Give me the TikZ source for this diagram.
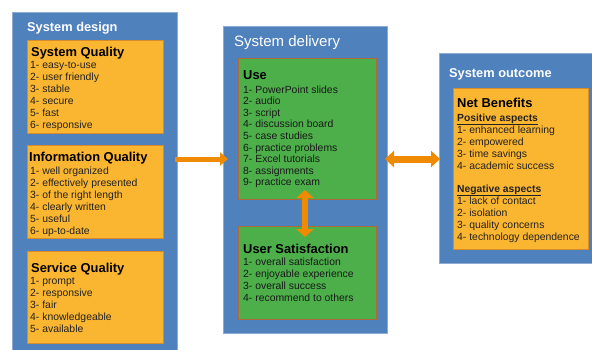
\documentclass[tikz,border=0pt]{standalone}
\usepackage{fontspec}
\setmainfont{Liberation Sans}
\usetikzlibrary{arrows.meta}

\definecolor{panelblue}{HTML}{4F81BD}
\definecolor{panelline}{HTML}{8FAAD3}
\definecolor{boxorange}{HTML}{FBB631}
\definecolor{orangeline}{HTML}{D98A2B}
\definecolor{boxgreen}{HTML}{4CAF4A}
\definecolor{greenline}{HTML}{B0683A}
\definecolor{arroworange}{HTML}{F08A00}
\definecolor{itemgray}{HTML}{222222}

\tikzset{
  panel/.style={draw=panelline, line width=0.6pt, fill=panelblue,
    anchor=north west, inner sep=0pt, outer sep=0pt},
  obox/.style={draw=orangeline, line width=0.6pt, fill=boxorange,
    anchor=north west, inner sep=0pt, outer sep=0pt},
  gbox/.style={draw=greenline, line width=0.6pt, fill=boxgreen,
    anchor=north west, inner sep=0pt, outer sep=0pt},
  paneltitle/.style={anchor=base west, inner sep=0pt, text=white,
    font=\bfseries\fontsize{12.8}{15}\selectfont},
  boxhead/.style={anchor=base west, inner sep=0pt, text=black,
    font=\bfseries\fontsize{12.9}{15}\selectfont},
  subhead/.style={anchor=base west, inner sep=0pt, text=itemgray,
    font=\bfseries\fontsize{10.3}{12}\selectfont},
  item/.style={anchor=base west, inner sep=0pt, text=itemgray,
    font=\fontsize{10.4}{12}\selectfont},
  bigarrow/.style={draw=arroworange, line width=5pt,
    -{Triangle[length=8pt,width=13pt]}},
  twowayarrow/.style={draw=arroworange, line width=#1,
    {Triangle[length=9pt,width=16pt]}-{Triangle[length=9pt,width=16pt]}},
}

\begin{document}
\begin{tikzpicture}[x=1pt, y=-1pt]
\useasboundingbox (0,0) rectangle (592,349);

% ---- System design ----
\node[panel, minimum width=165pt, minimum height=340pt] (design) at (12,12) {};
\node[paneltitle] (designtitle) at (27,31) {System design};

\node[obox, minimum width=136pt, minimum height=93pt] (sq) at (27,40) {};
\node[boxhead] (sqhead) at (31,56) {System Quality};
\foreach \t [count=\i] in {easy-to-use, user friendly, stable, secure, fast, responsive}
  \node[item] (sq\i) at (30, 56+12*\i) {\i- \t};

\node[obox, minimum width=136pt, minimum height=93pt] (iq) at (27,145) {};
\node[boxhead] (iqhead) at (29,161) {Information Quality};
\foreach \t [count=\i] in {well organized, effectively presented, of the right length,
    clearly written, useful, up-to-date}
  \node[item] (iq\i) at (30, 162+12*\i) {\i- \t};

\node[obox, minimum width=136pt, minimum height=92pt] (svq) at (27,251) {};
\node[boxhead] (svqhead) at (31,272) {Service Quality};
\foreach \t [count=\i] in {prompt, responsive, fair, knowledgeable, available}
  \node[item] (svq\i) at (30, 273+11.8*\i) {\i- \t};

% ---- System delivery ----
\node[panel, minimum width=164pt, minimum height=307pt] (delivery) at (223,26) {};
\node[anchor=base west, inner sep=0pt, text=white,
  font=\fontsize{15}{18}\selectfont] (deliverytitle) at (234,46) {System delivery};

\node[gbox, minimum width=138pt, minimum height=141pt] (use) at (238,58) {};
\node[boxhead] (usehead) at (243,79) {Use};
\foreach \t [count=\i] in {PowerPoint slides, audio, script, discussion board, case studies,
    practice problems, Excel tutorials, assignments, practice exam}
  \node[item, text=black!90] (use\i) at (243, 81.4+11.6*\i) {\i- \t};

\node[gbox, minimum width=138pt, minimum height=93pt] (us) at (238,226) {};
\node[boxhead] (ushead) at (243,253) {User Satisfaction};
\foreach \t [count=\i] in {overall satisfaction, enjoyable experience, overall success,
    recommend to others}
  \node[item, text=black!90] (us\i) at (243, 253+12*\i) {\i- \t};

% ---- System outcome ----
\node[panel, minimum width=160pt, minimum height=210pt] (outcome) at (439,53) {};
\node[paneltitle] (outcometitle) at (449,77) {System outcome};

\node[obox, minimum width=135pt, minimum height=161pt] (nb) at (453,88) {};
\node[boxhead] (nbhead) at (457,107) {Net Benefits};
\node[subhead] (pos) at (457,121) {\underline{Positive aspects}};
\foreach \t [count=\i] in {enhanced learning, empowered, time savings, academic success}
  \node[item] (pos\i) at (457, 121+12*\i) {\i- \t};
\node[subhead] (neg) at (457,192) {\underline{Negative aspects}};
\foreach \t [count=\i] in {lack of contact, isolation, quality concerns, technology dependence}
  \node[item] (neg\i) at (457, 192+12*\i) {\i- \t};

% ---- connectors ----
\draw[bigarrow] ([xshift=-2pt]design.east |- 0,159) -- ([xshift=5pt]delivery.west |- 0,159);
\draw[twowayarrow=7pt] ([xshift=-2pt]delivery.east |- 0,159) -- ([xshift=1pt]outcome.west |- 0,159);
\draw[draw=arroworange, line width=6pt,
  {Triangle[length=8pt,width=17pt]}-{Triangle[length=8pt,width=17pt]}]
  ([xshift=-2pt,yshift=9pt]use.south) -- ([xshift=-2pt,yshift=-11pt]us.north);
\end{tikzpicture}
\end{document}
